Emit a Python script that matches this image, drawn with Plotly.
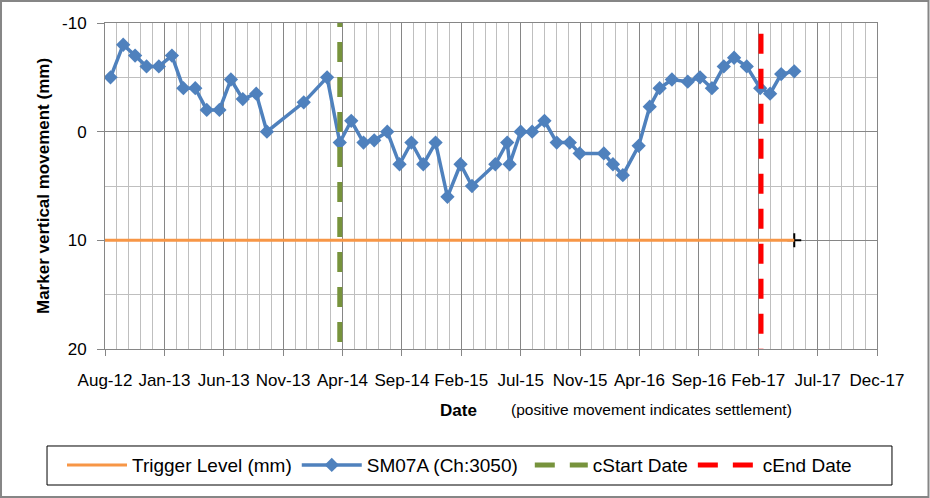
import plotly.graph_objects as go

# ---------------- data ----------------
survey_dates = [
    "2012-08-30", "2012-10-01", "2012-10-31", "2012-11-29", "2012-12-30",
    "2013-02-01", "2013-03-02", "2013-04-01", "2013-04-30", "2013-06-01",
    "2013-06-30", "2013-07-30", "2013-09-02", "2013-09-29", "2013-12-31",
    "2014-02-28", "2014-04-01", "2014-04-30", "2014-05-31", "2014-06-27",
    "2014-07-30", "2014-08-30", "2014-09-29", "2014-10-29", "2014-11-29",
    "2014-12-29", "2015-01-31", "2015-03-01", "2015-04-29", "2015-05-29",
    "2015-06-04", "2015-07-02", "2015-07-31", "2015-08-31", "2015-10-01",
    "2015-11-03", "2015-11-28", "2016-01-28", "2016-02-20", "2016-03-16",
    "2016-04-25", "2016-05-23", "2016-06-17", "2016-07-18", "2016-08-27",
    "2016-09-27", "2016-10-27", "2016-11-26", "2016-12-22", "2017-01-23",
    "2017-02-26", "2017-03-23", "2017-04-20", "2017-05-23",
]
sm07a_values = [
    -5, -8, -7, -6, -6,
    -7, -4, -4, -2, -2,
    -4.8, -3, -3.5, 0, -2.7,
    -5, 1, -1, 1, 0.8,
    0, 3, 1, 3, 1,
    6, 3, 5, 3, 1,
    3, 0, 0, -1, 1,
    1, 2, 2, 3, 4,
    1.3, -2.3, -4, -4.8, -4.6,
    -5, -4, -6, -6.8, -6,
    -4, -3.5, -5.3, -5.55,
]

trigger_dates = ["2012-08-16", "2017-05-23"]
trigger_values = [10, 10]

cstart_dates = ["2014-04-01", "2014-04-01"]
cstart_values = [20, -10]

cend_dates = ["2017-02-28", "2017-02-28"]
cend_values = [-9, 20]

x_range = ["2012-08-16", "2017-12-18"]
y_range = [20, -10]
y_ticks = [-10, 0, 10, 20]
y_tick_labels = ["-10", "0", "10", "20"]

DAY_MS = 86400000

# ---------------- figure ----------------
FONT = "Liberation Sans, Arial, sans-serif"
MAJOR = "#868686"
MINOR = "#bfbfbf"

fig = go.Figure()

# end-cap marker of trigger line (drawn beneath the line)
fig.add_trace(go.Scatter(
    x=trigger_dates[-1:], y=trigger_values[-1:], mode="markers",
    marker=dict(symbol="cross-thin", size=10, line=dict(color="black", width=2)),
    showlegend=False, hoverinfo="skip"))

fig.add_trace(go.Scatter(
    x=trigger_dates, y=trigger_values, mode="lines", name="Trigger Level (mm)",
    line=dict(color="#F79646", width=3)))

fig.add_trace(go.Scatter(
    x=survey_dates, y=sm07a_values, mode="lines+markers", name="SM07A (Ch:3050)",
    line=dict(color="#4F81BD", width=3.5),
    marker=dict(symbol="diamond", size=11, color="#4F81BD")))

fig.add_trace(go.Scatter(
    x=cstart_dates, y=cstart_values, mode="lines", name="cStart Date",
    line=dict(color="#77933C", width=5, dash="0px,7px,20px,8px")))

fig.add_trace(go.Scatter(
    x=cend_dates, y=cend_values, mode="lines", name="cEnd Date",
    line=dict(color="#FF0000", width=5, dash="20px,15px")))

fig.update_xaxes(
    type="date", range=x_range,
    tick0=x_range[0], dtick=150 * DAY_MS, tickformat="%b-%y",
    showgrid=True, gridcolor=MAJOR, gridwidth=1,
    minor=dict(tick0=x_range[0], dtick=30 * DAY_MS, showgrid=True,
               gridcolor=MINOR, gridwidth=1),
    showline=True, linecolor=MAJOR, linewidth=1, mirror=True,
    ticks="outside", ticklen=6, tickcolor=MAJOR,
    tickfont=dict(family=FONT, size=17, color="black"),
    ticklabelstandoff=10,
    zeroline=False, fixedrange=True,
)

fig.update_yaxes(
    range=y_range, tickvals=y_ticks, ticktext=y_tick_labels,
    showgrid=True, gridcolor=MAJOR, gridwidth=1,
    minor=dict(dtick=5, tick0=-10, showgrid=True, gridcolor=MINOR, gridwidth=1),
    showline=True, linecolor=MAJOR, linewidth=1, mirror=True,
    ticks="outside", ticklen=7, tickcolor=MAJOR,
    tickfont=dict(family=FONT, size=17, color="black"),
    ticklabelstandoff=7,
    zeroline=False, fixedrange=True,
    title=dict(text="<b>Marker vertical movement (mm)</b>",
               font=dict(family=FONT, size=17, color="black"), standoff=8),
)

fig.add_annotation(text="<b>Date</b>", xref="paper", yref="paper",
                   x=0.4573, y=-0.190, showarrow=False,
                   font=dict(family=FONT, size=17, color="black"),
                   xanchor="center", yanchor="middle")
fig.add_annotation(text="(positive movement indicates settlement)",
                   xref="paper", yref="paper", x=0.708, y=-0.187,
                   showarrow=False,
                   font=dict(family=FONT, size=15.5, color="black"),
                   xanchor="center", yanchor="middle")

# legend frame
fig.add_shape(type="rect", xref="paper", yref="paper",
              x0=-0.0751, x1=1.0194, y0=-0.4172, y1=-0.2975,
              line=dict(color="black", width=1), fillcolor="rgba(0,0,0,0)")
# outer chart border
fig.add_shape(type="rect", xref="paper", yref="paper",
              x0=-0.1347, x1=1.0667, y0=-0.4540, y1=1.0675,
              line=dict(color=MAJOR, width=2), fillcolor="rgba(0,0,0,0)")

fig.update_layout(
    width=930, height=498,
    margin=dict(l=105, r=53, t=23, b=149),
    paper_bgcolor="white", plot_bgcolor="white",
    font=dict(family=FONT, color="black"),
    showlegend=True,
    legend=dict(orientation="h", x=-0.0557, xanchor="left",
                y=-0.356, yanchor="middle",
                font=dict(family=FONT, size=19, color="black"),
                itemwidth=60,
                bgcolor="rgba(0,0,0,0)", borderwidth=0,
                traceorder="normal", itemclick=False, itemdoubleclick=False),
    hovermode=False,
)

fig.write_html("out.html", config={"displayModeBar": False},
               post_script="document.body.style.margin='0px';")
